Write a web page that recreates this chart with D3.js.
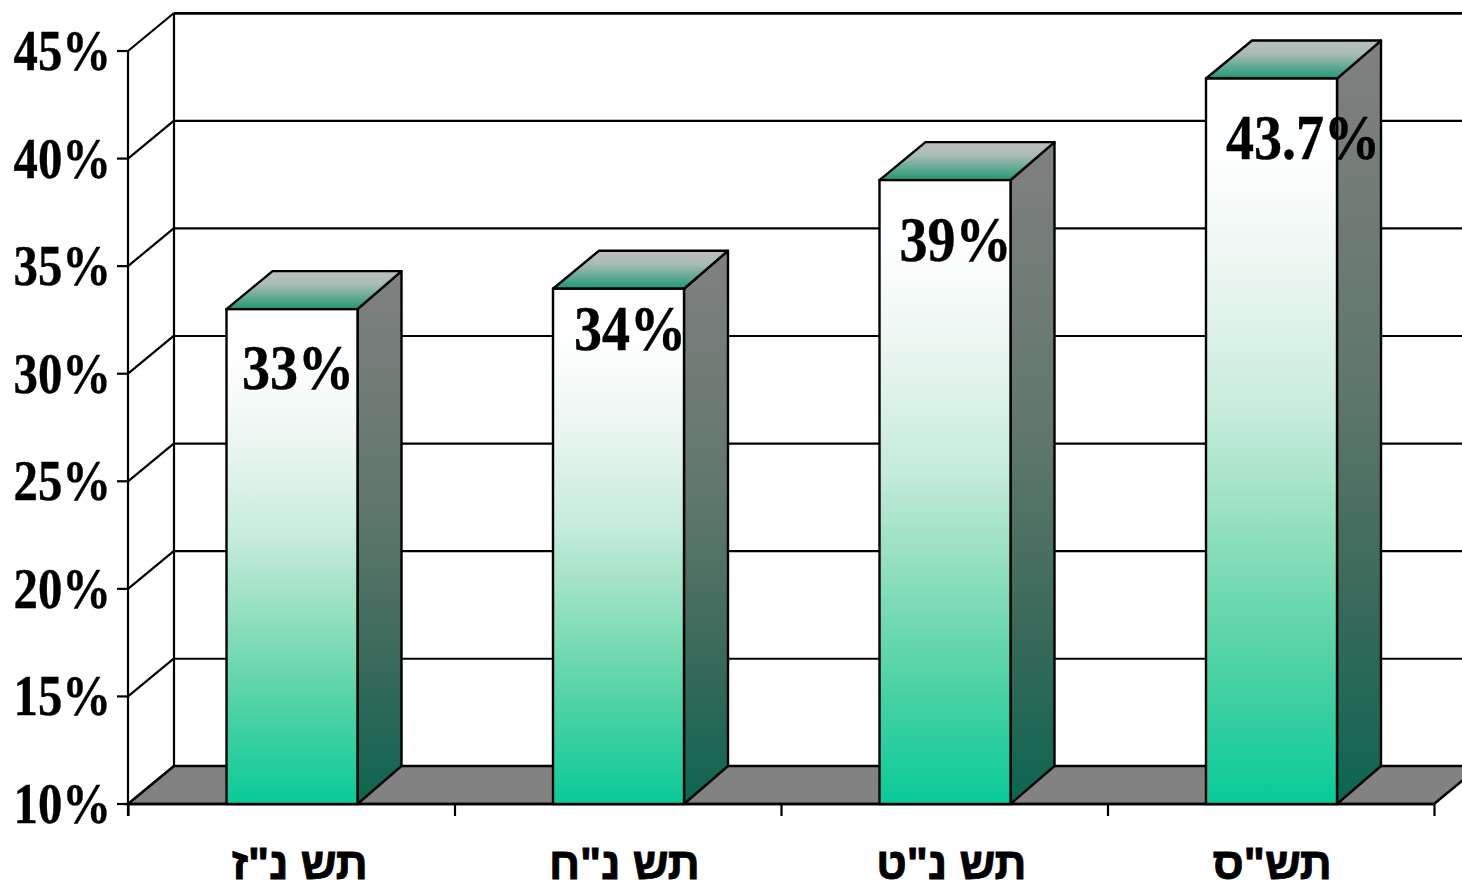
<!DOCTYPE html>
<html><head><meta charset="utf-8">
<script src="https://cdn.jsdelivr.net/npm/d3@7"></script>
<style>html,body{margin:0;padding:0;background:#fff;overflow:hidden}svg{display:block}</style>
</head><body><div id="chart"></div>
<script>
const categories = ['תש נ"ז','תש נ"ח','תש נ"ט','תש"ס'];
const values = [33, 33.95, 39, 43.72];
const valueLabels = ['33%','34%','39%','43.7%'];
const tickValues = [10,15,20,25,30,35,40,45];

const W=1462,H=883,depthX=46,depthY=38,barDepthX=44;
const svg=d3.select('#chart').append('svg').attr('width',W).attr('height',H);
const y=d3.scaleLinear().domain([10,45]).range([804,51]);
const slot=d3.scaleBand().domain(categories).range([128.5,1434.5]);
const ink='#000';
const labelDrop=[80,61,81,80];
const labelShift=[15.5,21,20,20];
const catShift=[8,6,6.5,1];

const defs=svg.append('defs');
function grad(id,stops){
  const g=defs.append('linearGradient').attr('id',id).attr('x1',0).attr('y1',0).attr('x2',0).attr('y2',1);
  stops.forEach(([o,c])=>g.append('stop').attr('offset',o).attr('stop-color',c));
}
grad('front',[[0,'#ffffff'],[0.11,'#fdfefe'],[0.29,'#e8f5ef'],[0.46,'#c5ecdb'],[0.58,'#9fe2c5'],[0.75,'#63d6ab'],[0.87,'#38cfa0'],[1,'#08cb98']]);
grad('side',[[0,'#808080'],[0.45,'#5f776b'],[0.75,'#37695a'],[1,'#0c6650']]);
grad('top',[[0,'#bdbdbd'],[0.35,'#a9bcb4'],[1,'#1f9874']]);

// back wall and gridlines
const walls=svg.append('g');
walls.selectAll('line.grid').data(tickValues).join('line').attr('class','grid')
  .attr('x1',174).attr('x2',W).attr('y1',d=>y(d)-depthY+0.3).attr('y2',d=>y(d)-depthY+0.3)
  .attr('stroke',ink).attr('stroke-width',d=>d===45?2.8:2.2);
walls.selectAll('line.diag').data(tickValues).join('line').attr('class','diag')
  .attr('x1',128).attr('x2',128+depthX).attr('y1',d=>y(d)).attr('y2',d=>y(d)-depthY)
  .attr('stroke',ink).attr('stroke-width',2.2);
walls.append('line').attr('x1',174).attr('x2',174).attr('y1',y(45)-depthY).attr('y2',y(10)-depthY).attr('stroke',ink).attr('stroke-width',2.2);

// floor
svg.append('path').attr('d',d3.line()([[128,y(10)],[128+depthX,y(10)-depthY],[1434+depthX,y(10)-depthY],[1434,y(10)]])+'Z')
  .attr('fill','#828282').attr('stroke',ink).attr('stroke-width',2.6);

// axes
svg.append('line').attr('x1',128).attr('x2',128).attr('y1',y(45)).attr('y2',y(10)+12).attr('stroke',ink).attr('stroke-width',2.2);
svg.selectAll('line.ytick').data(tickValues).join('line').attr('class','ytick')
  .attr('x1',117).attr('x2',128).attr('y1',d=>y(d)).attr('y2',d=>y(d)).attr('stroke',ink).attr('stroke-width',2.2);
svg.append('line').attr('x1',128).attr('x2',1434).attr('y1',y(10)).attr('y2',y(10)).attr('stroke',ink).attr('stroke-width',2.6);
const xTicks=categories.map(c=>slot(c)).concat([1434.5]);
svg.selectAll('line.xtick').data(xTicks).join('line').attr('class','xtick')
  .attr('x1',d=>d).attr('x2',d=>d).attr('y1',y(10)).attr('y2',y(10)+12).attr('stroke',ink).attr('stroke-width',2.2);

// bars
const barX=c=>slot(c)+98, barW=131;
const bars=svg.selectAll('g.bar').data(categories.map((c,i)=>({c,v:values[i],i}))).join('g').attr('class','bar');
bars.append('path').attr('fill','url(#side)').attr('stroke',ink).attr('stroke-width',2.4)
  .attr('stroke-linejoin','round')
  .attr('d',d=>{const l=barX(d.c)+barW,t=y(d.v),b=y(10);return d3.line()([[l,t],[l+barDepthX,t-depthY],[l+barDepthX,b-depthY],[l,b]])+'Z';});
bars.append('path').attr('fill','url(#top)').attr('stroke',ink).attr('stroke-width',2.4)
  .attr('stroke-linejoin','round')
  .attr('d',d=>{const l=barX(d.c),t=y(d.v);return d3.line()([[l,t],[l+depthX,t-depthY],[l+barW+barDepthX,t-depthY],[l+barW,t]])+'Z';});
bars.append('rect').attr('fill','url(#front)').attr('stroke',ink).attr('stroke-width',2.4)
  .attr('x',d=>barX(d.c)).attr('width',barW).attr('y',d=>y(d.v)).attr('height',d=>y(10)-y(d.v));

const serif="'Liberation Serif','Times New Roman',serif";
// value labels
bars.append('text').attr('font-family',serif).attr('font-weight','bold').attr('font-size',63).attr('fill',ink)
  .attr('stroke',ink).attr('stroke-width',0.4)
  .attr('transform',d=>`translate(${barX(d.c)+labelShift[d.i]},${y(d.v)+labelDrop[d.i]}) scale(0.89,1)`)
  .text(d=>valueLabels[d.i]);
// y tick labels
svg.selectAll('text.yl').data(tickValues).join('text').attr('class','yl')
  .attr('font-family',serif).attr('font-weight','bold').attr('font-size',56).attr('fill',ink)
  .attr('stroke',ink).attr('stroke-width',0.4)
  .attr('text-anchor','end')
  .attr('transform',d=>`translate(111,${y(d)+19}) scale(0.87,1)`)
  .text(d=>d+'%');
// category labels
svg.selectAll('text.cat').data(categories).join('text').attr('class','cat')
  .attr('font-family',"'Liberation Sans',Arial,sans-serif").attr('font-weight','bold').attr('font-size',44.5).attr('fill',ink)
  .attr('stroke',ink).attr('stroke-width',0.9)
  .attr('text-anchor','middle').attr('direction','rtl')
  .attr('transform',(c,i)=>`translate(${slot(c)+slot.bandwidth()/2+catShift[i]},879)`)
  .text(c=>c);
</script></body></html>
